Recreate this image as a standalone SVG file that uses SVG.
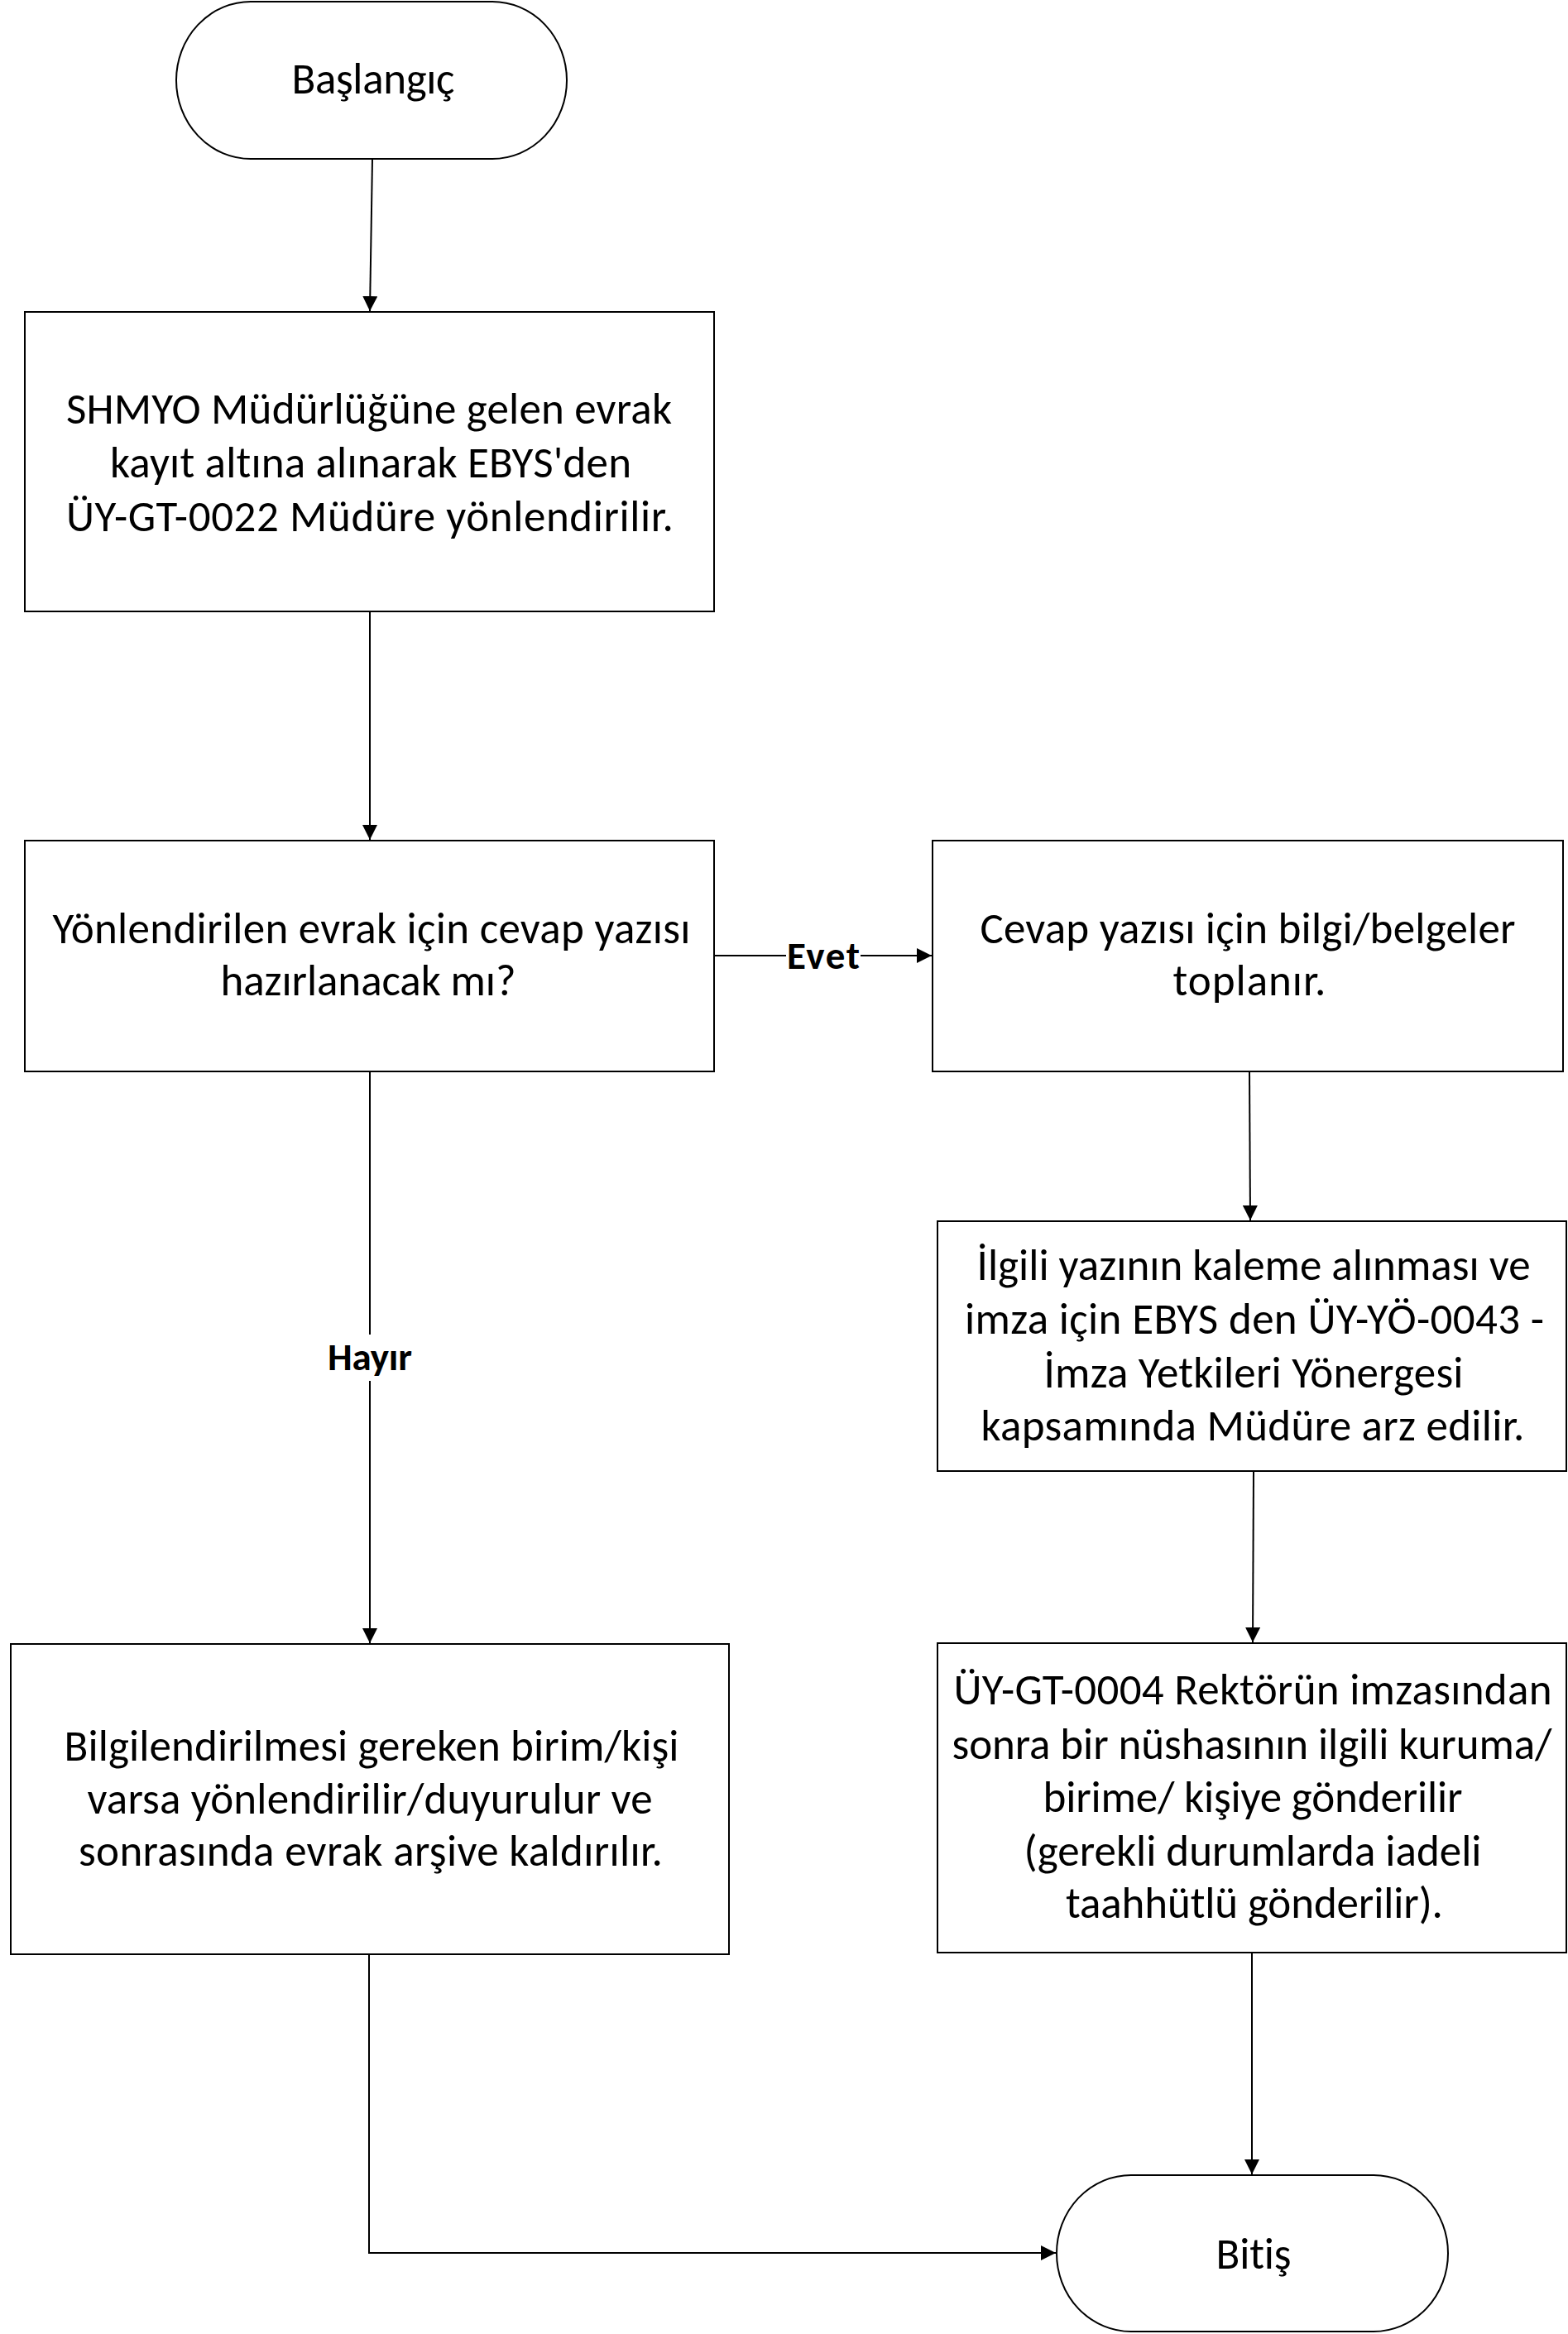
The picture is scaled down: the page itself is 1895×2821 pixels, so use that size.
<svg xmlns="http://www.w3.org/2000/svg" width="1895" height="2821" viewBox="0 0 1895 2821">
<style>
.box{fill:#fff;stroke:#000;stroke-width:2}
.t{font-family:Carlito,Lato,"Liberation Sans",sans-serif;font-size:53px;fill:#000;text-anchor:middle;font-variant-ligatures:none}
.lb{font-family:Carlito,Lato,"Liberation Sans",sans-serif;font-size:47px;font-weight:bold;fill:#000;text-anchor:middle;font-variant-ligatures:none}
.c{fill:none;stroke:#000;stroke-width:2}
</style>
<defs>
<marker id="ah" markerWidth="18" markerHeight="18" refX="18" refY="9" orient="auto" markerUnits="userSpaceOnUse">
<path d="M0,0 L18,9 L0,18 Z" fill="#000"/>
</marker>
</defs>
<rect width="1895" height="2821" fill="#fff"/>
<g id="connectors">
<path class="c" d="M450,192 L447,376" marker-end="url(#ah)"/>
<path class="c" d="M447,739 L447,1015" marker-end="url(#ah)"/>
<path class="c" d="M863,1155 L1126,1155" marker-end="url(#ah)"/>
<path class="c" d="M1510,1295 L1511,1475" marker-end="url(#ah)"/>
<path class="c" d="M1515,1778 L1514,1985" marker-end="url(#ah)"/>
<path class="c" d="M447,1295 L447,1986" marker-end="url(#ah)"/>
<path class="c" d="M1513,2360 L1513,2628" marker-end="url(#ah)"/>
<path class="c" d="M446,2362 L446,2723 L1276,2723" marker-end="url(#ah)"/>
<rect x="950" y="1135" width="90" height="40" fill="#fff"/>
<text class="lb" x="995" y="1171" textLength="88">Evet</text>
<rect x="392" y="1613" width="110" height="56" fill="#fff"/>
<text class="lb" x="447" y="1656" textLength="102">Hayır</text>
</g>
<g id="start">
<rect class="box" x="213" y="2" width="472" height="190" rx="90" ry="95"/>
<text class="t" x="451" y="113" textLength="197">Başlangıç</text>
</g>
<g id="box1">
<rect class="box" x="30" y="377" width="833" height="362"/>
<text class="t" x="446" y="512" textLength="732">SHMYO Müdürlüğüne gelen evrak</text>
<text class="t" x="448" y="577" textLength="630">kayıt altına alınarak EBYS'den</text>
<text class="t" x="447" y="642" textLength="734">ÜY-GT-0022 Müdüre yönlendirilir.</text>
</g>
<g id="box2">
<rect class="box" x="30" y="1016" width="833" height="279"/>
<text class="t" x="449" y="1140" textLength="771">Yönlendirilen evrak için cevap yazısı</text>
<text class="t" x="445" y="1203" textLength="357">hazırlanacak mı?</text>
</g>
<g id="box3">
<rect class="box" x="1127" y="1016" width="762" height="279"/>
<text class="t" x="1508" y="1140" textLength="647">Cevap yazısı için bilgi/belgeler</text>
<text class="t" x="1510" y="1203" textLength="185">toplanır.</text>
</g>
<g id="box4">
<rect class="box" x="1133" y="1476" width="760" height="302"/>
<text class="t" x="1515" y="1547" textLength="669">İlgili yazının kaleme alınması ve</text>
<text class="t" x="1516" y="1612" textLength="700">imza için EBYS den ÜY-YÖ-0043 -</text>
<text class="t" x="1515" y="1677" textLength="507">İmza Yetkileri Yönergesi</text>
<text class="t" x="1514" y="1741" textLength="657">kapsamında Müdüre arz edilir.</text>
</g>
<g id="box5">
<rect class="box" x="13" y="1987" width="868" height="375"/>
<text class="t" x="449" y="2128" textLength="743">Bilgilendirilmesi gereken birim/kişi</text>
<text class="t" x="447" y="2192" textLength="683">varsa yönlendirilir/duyurulur ve</text>
<text class="t" x="448" y="2255" textLength="706">sonrasında evrak arşive kaldırılır.</text>
</g>
<g id="box6">
<rect class="box" x="1133" y="1986" width="760" height="374"/>
<text class="t" x="1514" y="2060" textLength="723">ÜY-GT-0004 Rektörün imzasından</text>
<text class="t" x="1513" y="2126" textLength="725">sonra bir nüshasının ilgili kuruma/</text>
<text class="t" x="1514" y="2190" textLength="507">birime/ kişiye gönderilir</text>
<text class="t" x="1514" y="2255" textLength="553">(gerekli durumlarda iadeli</text>
<text class="t" x="1516" y="2318" textLength="456">taahhütlü gönderilir).</text>
</g>
<g id="end">
<rect class="box" x="1277" y="2629" width="473" height="189" rx="90" ry="94.5"/>
<text class="t" x="1515" y="2742" textLength="91">Bitiş</text>
</g>
</svg>
